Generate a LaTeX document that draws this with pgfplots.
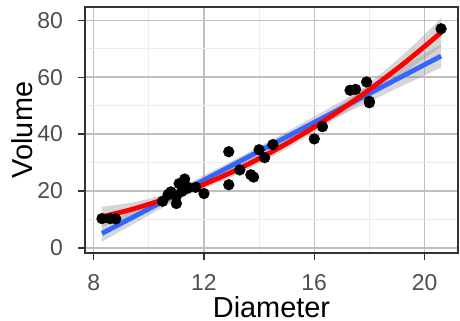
\documentclass[border=0pt]{standalone}
\usepackage{pgfplots}
\pgfplotsset{compat=1.18}
\usepackage{pgfplotstable}
\usepgfplotslibrary{fillbetween}
\usepackage{fontspec}
\setmainfont{Liberation Sans}

\definecolor{lmblue}{HTML}{3366FF}
\definecolor{qdred}{HTML}{FF0000}
\definecolor{axgrey}{HTML}{333333}
\definecolor{tkgrey}{HTML}{4D4D4D}

% Tree measurements: diameter (girth) and volume
\pgfplotstableread{
d v
8.3 10.3
8.6 10.3
8.8 10.2
10.5 16.4
10.7 18.8
10.8 19.7
11.0 15.6
11.0 18.2
11.1 22.6
11.2 19.9
11.3 24.2
11.4 21.0
11.4 21.4
11.7 21.3
12.0 19.1
12.9 22.2
12.9 33.8
13.3 27.4
13.7 25.7
13.8 24.9
14.0 34.5
14.2 31.7
14.5 36.3
16.0 38.3
16.3 42.6
17.3 55.4
17.5 55.7
17.9 58.3
18.0 51.5
18.0 51.0
20.6 77.0
}\trees

% Linear fit with 95% confidence band
\pgfplotstableread{
x fit lo hi
8.3 5.10 2.15 8.05
9.5 11.18 8.72 13.64
10.5 16.25 14.16 18.34
11.5 21.31 19.52 23.10
12.5 26.38 24.77 27.99
13.25 30.18 28.62 31.74
14 33.98 32.37 35.59
15 39.04 37.24 40.84
16 44.11 42.02 46.20
17 49.18 46.72 51.64
18 54.24 51.37 57.11
19 59.31 56.01 62.61
20 64.37 60.61 68.13
20.6 67.41 63.38 71.44
}\linfit

% Quadratic fit with 95% confidence band
\pgfplotstableread{
x fit lo hi
8.3 10.96 7.37 14.55
8.9 12.33 9.44 15.22
9.5 13.88 11.57 16.19
10.5 16.88 15.21 18.55
11.5 20.39 18.92 21.86
12.5 24.41 22.85 25.97
13.25 27.75 26.08 29.42
14 31.39 29.64 33.14
15 36.68 34.89 38.47
16 42.47 40.66 44.28
17 48.78 46.84 50.72
18 55.60 53.26 57.94
19 62.92 59.82 66.02
19.5 66.78 63.17 70.39
20 70.76 66.56 74.96
20.3 73.21 68.62 77.80
20.6 75.71 70.70 80.72
}\quadfit

\begin{document}
\begin{tikzpicture}
\begin{axis}[
  scale only axis,
  width=373bp, height=246bp,
  xmin=7.685, xmax=21.215,
  ymin=-1.78, ymax=84.65,
  xtick={8,12,16,20}, ytick={0,20,40,60,80},
  minor xtick={10,14,18}, minor ytick={10,30,50,70},
  grid=both,
  major grid style={color=gray!50, line width=1.4bp},
  minor grid style={color=gray!15, line width=0.9bp},
  axis line style={color=axgrey, line width=1.2bp},
  xtick pos=left, ytick pos=left,
  tick align=outside,
  major tick length=7bp, minor tick length=0bp,
  tick style={color=axgrey, line width=1.2bp},
  /pgf/number format/assume math mode=true,
  ticklabel style={font=\fontsize{23}{23}\selectfont, text=tkgrey, inner sep=0pt},
  yticklabel style={anchor=east, xshift=-15bp},
  xticklabel style={anchor=north, yshift=-14bp},
  xlabel={Diameter}, ylabel={Volume},
  label style={font=\fontsize{29}{29}\selectfont, inner sep=0pt},
  xlabel style={at={(axis description cs:0.5,-0.2602)}, anchor=base},
  ylabel style={at={(axis description cs:-0.1413,0.5)}, anchor=base, rotate=0},
]
\addplot[only marks, mark=*, mark size=5.4bp, black] table[x=d, y=v] {\trees};

\addplot[name path=llo, draw=none, smooth] table[x=x, y=lo] {\linfit};
\addplot[name path=lhi, draw=none, smooth] table[x=x, y=hi] {\linfit};
\addplot[fill=black!40, fill opacity=0.4, draw=none] fill between[of=llo and lhi];
\addplot[lmblue, line width=4.8bp] table[x=x, y=fit] {\linfit};

\addplot[name path=qlo, draw=none, smooth] table[x=x, y=lo] {\quadfit};
\addplot[name path=qhi, draw=none, smooth] table[x=x, y=hi] {\quadfit};
\addplot[fill=black!40, fill opacity=0.4, draw=none] fill between[of=qlo and qhi];
\addplot[qdred, line width=4.8bp, smooth] table[x=x, y=fit] {\quadfit};
\end{axis}
\path[use as bounding box] ([xshift=-85bp,yshift=-68bp]current axis.south west)
  rectangle ([xshift=2bp,yshift=7bp]current axis.north east);
\end{tikzpicture}
\end{document}
